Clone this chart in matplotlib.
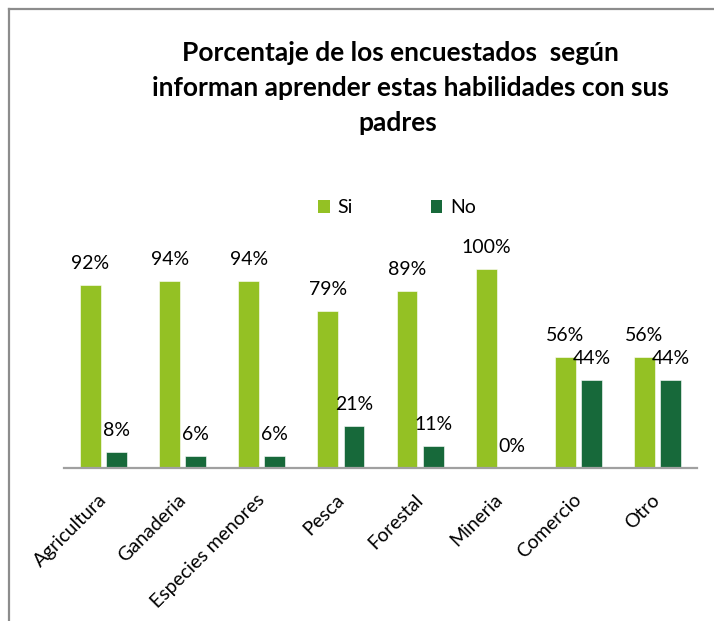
import matplotlib
matplotlib.use("Agg")
import matplotlib.pyplot as plt
import numpy as np
from matplotlib.patches import Patch
from matplotlib.lines import Line2D

categories = ["Agricultura", "Ganaderia", "Especies menores", "Pesca",
              "Forestal", "Mineria", "Comercio", "Otro"]
si_values = [92, 94, 94, 79, 89, 100, 56, 56]
no_values = [8, 6, 6, 21, 11, 0, 44, 44]
series_names = ["Si", "No"]

LIGHT = "#94C124"
DARK = "#17693A"
W, H = 714, 621

plt.rcParams["font.family"] = ["Lato", "DejaVu Sans"]

fig = plt.figure(figsize=(W / 100, H / 100), dpi=100, facecolor="white")

# outer frame (only left / top visible)
fig.add_artist(Line2D([9 / W, 9 / W], [0, 1 - 9 / H], color="#8C8C8C", lw=1.6,
                      transform=fig.transFigure))
fig.add_artist(Line2D([9 / W, 1], [1 - 9 / H, 1 - 9 / H], color="#8C8C8C", lw=1.6,
                      transform=fig.transFigure))

# title
title_lines = [("Porcentaje de los encuestados  según", 400, 61),
               ("informan aprender estas habilidades con sus", 410, 96),
               ("padres", 398, 131)]
for txt, cx, by in title_lines:
    fig.text(cx / W, 1 - by / H, txt, ha="center", va="baseline",
             fontsize=19, weight="bold", color="black")

ax = fig.add_axes([64 / W, 153 / H, 633 / W, 238.8 / H])
x = np.arange(len(categories))
bw = 0.265
off = 0.165
b1 = ax.bar(x - off, si_values, bw, color=LIGHT, edgecolor="white", lw=0.4)
b2 = ax.bar(x + off, no_values, bw, color=DARK, edgecolor="white", lw=0.4)

for bars, vals in ((b1, si_values), (b2, no_values)):
    for r, v in zip(bars, vals):
        ax.annotate(f"{v}%", (r.get_x() + r.get_width() / 2, v),
                    xytext=(0, 11.5), textcoords="offset points",
                    ha="center", va="baseline", fontsize=14, color="black",
                    annotation_clip=False)

ax.set_xlim(-0.5, len(categories) - 0.5)
ax.set_ylim(0, 120)
ax.set_yticks([])
for s in ("top", "right", "left"):
    ax.spines[s].set_visible(False)
ax.spines["bottom"].set_color("#A0A0A0")
ax.spines["bottom"].set_linewidth(1.6)

ax.set_xticks(x)
ax.set_xticklabels(categories, rotation=45, ha="right", va="center",
                   rotation_mode="anchor", fontsize=14)
ax.tick_params(axis="x", length=0, pad=21)

handles = [Patch(facecolor=LIGHT, edgecolor="none"),
           Patch(facecolor=DARK, edgecolor="none")]
fig.legend(handles, series_names, loc="center", ncol=2, frameon=False,
           bbox_to_anchor=(397 / W, 1 - 208 / H), fontsize=14,
           handlelength=0.6, handleheight=0.6, handletextpad=0.4,
           columnspacing=4.0)

fig.savefig("out.png", dpi=100, facecolor="white")
